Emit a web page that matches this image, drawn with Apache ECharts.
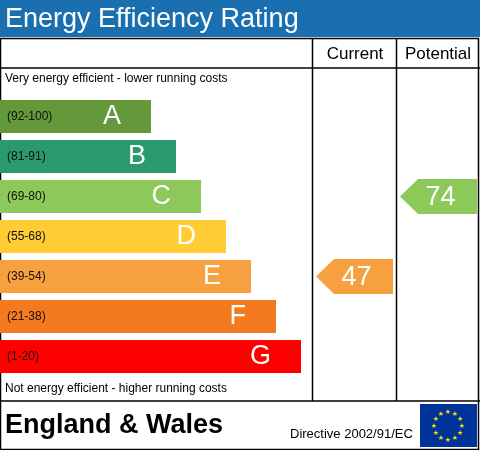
<!DOCTYPE html>
<html><head><meta charset="utf-8">
<script src="https://cdn.jsdelivr.net/npm/echarts@6/dist/echarts.min.js"></script>
<style>html,body{margin:0;padding:0;background:#fff}#c{width:480px;height:450px}</style>
</head><body><div id="c"></div>
<script>
const bandLetters = ['A','B','C','D','E','F','G'];
const bandRanges  = ['(92-100)','(81-91)','(69-80)','(55-68)','(39-54)','(21-38)','(1-20)'];
const bandEnds    = [151, 176, 201, 226, 251, 276, 301];
const bandColors  = ['#63993a','#2a9a6e','#8cc85a','#ffcc33','#f7a040','#f47a20','#ff0000'];
const currentScore = 47, currentBand = 4;
const potentialScore = 74, potentialBand = 2;

const chart = echarts.init(document.getElementById('c'), null, { renderer: 'canvas' });
const F = 'Arial, "Liberation Sans", sans-serif';

// arrow: [xStart, xEnd, bandIndex, score]
const arrowItem = (p, api) => {
  const y = api.value(2);
  const a = api.coord([api.value(0), y]);
  const b = api.coord([api.value(1), y]);
  const h = 35, t = 18;
  return {
    type: 'group',
    children: [
      { type: 'polygon', shape: { points: [[a[0], a[1]], [a[0] + t, a[1] - h / 2], [b[0], a[1] - h / 2], [b[0], a[1] + h / 2], [a[0] + t, a[1] + h / 2]] },
        style: { fill: bandColors[y] } },
      { type: 'text', style: { text: String(api.value(3)), x: (a[0] + b[0]) / 2 + 2, y: a[1] + 1, fill: '#fff',
        font: '27px ' + F, align: 'center', verticalAlign: 'middle' } }
    ]
  };
};

const stars = [];
for (let i = 0; i < 12; i++) {
  const ang = i * Math.PI / 6;
  stars.push({ type: 'text', style: { text: '★', x: 448 + 14 * Math.sin(ang), y: 426 - 14 * Math.cos(ang),
    fill: '#ffdd00', font: '7px "DejaVu Sans"', align: 'center', verticalAlign: 'middle' } });
}

chart.setOption({
  animation: false,
  grid: { left: 0, top: 96.5, width: 480, height: 280 },
  xAxis: { type: 'value', min: 0, max: 480, show: false },
  yAxis: { type: 'category', data: bandLetters, inverse: true, show: false },
  series: [{
    type: 'bar', barWidth: 33,
    data: bandEnds.map((v, i) => ({ value: v, itemStyle: { color: bandColors[i] } })),
    label: { show: true, position: 'insideRight', distance: 30, color: '#fff', fontSize: 27, fontFamily: F,
      formatter: p => bandLetters[p.dataIndex] }
  }, {
    type: 'bar', barWidth: 33, barGap: '-100%', silent: true,
    data: bandEnds.map(() => ({ value: 2, itemStyle: { color: 'rgba(0,0,0,0)' } })),
    label: { show: true, position: 'right', distance: 5, color: '#111', fontSize: 12, fontFamily: F,
      formatter: p => bandRanges[p.dataIndex] }
  }, {
    type: 'custom', renderItem: arrowItem,
    data: [[316, 393, currentBand, currentScore], [400, 477, potentialBand, potentialScore]]
  }],
  graphic: [
    { type: 'rect', shape: { x: 0, y: 0, width: 480, height: 37 }, style: { fill: '#1a6fb0' } },
    { type: 'text', style: { text: 'Energy Efficiency Rating', x: 5, y: 20, fill: '#fff', font: '27px ' + F, verticalAlign: 'middle' } },
    { type: 'rect', shape: { x: 0.5, y: 38.5, width: 478, height: 411 }, style: { fill: null, stroke: '#000', lineWidth: 1.5 } },
    { type: 'line', shape: { x1: 0, y1: 68, x2: 480, y2: 68 }, style: { stroke: '#000', lineWidth: 1.5 } },
    { type: 'line', shape: { x1: 0, y1: 401, x2: 480, y2: 401 }, style: { stroke: '#000', lineWidth: 1.5 } },
    { type: 'line', shape: { x1: 312.5, y1: 38, x2: 312.5, y2: 401 }, style: { stroke: '#000', lineWidth: 1.5 } },
    { type: 'line', shape: { x1: 396.5, y1: 38, x2: 396.5, y2: 401 }, style: { stroke: '#000', lineWidth: 1.5 } },
    { type: 'text', style: { text: 'Current', x: 355, y: 54, fill: '#000', font: '17px ' + F, align: 'center', verticalAlign: 'middle' } },
    { type: 'text', style: { text: 'Potential', x: 438, y: 54, fill: '#000', font: '17px ' + F, align: 'center', verticalAlign: 'middle' } },
    { type: 'text', style: { text: 'Very energy efficient - lower running costs', x: 5, y: 79, fill: '#000', font: '12px ' + F, verticalAlign: 'middle' } },
    { type: 'text', style: { text: 'Not energy efficient - higher running costs', x: 5, y: 389, fill: '#000', font: '12px ' + F, verticalAlign: 'middle' } },
    { type: 'text', style: { text: 'England & Wales', x: 5, y: 426, fill: '#000', font: 'bold 27px ' + F, verticalAlign: 'middle' } },
    { type: 'text', style: { text: 'Directive 2002/91/EC', x: 290, y: 434, fill: '#000', font: '13px ' + F, verticalAlign: 'middle' } },
    { type: 'rect', shape: { x: 420, y: 404, width: 57, height: 43 }, style: { fill: '#003399' } },
    ...stars
  ]
});
</script></body></html>
